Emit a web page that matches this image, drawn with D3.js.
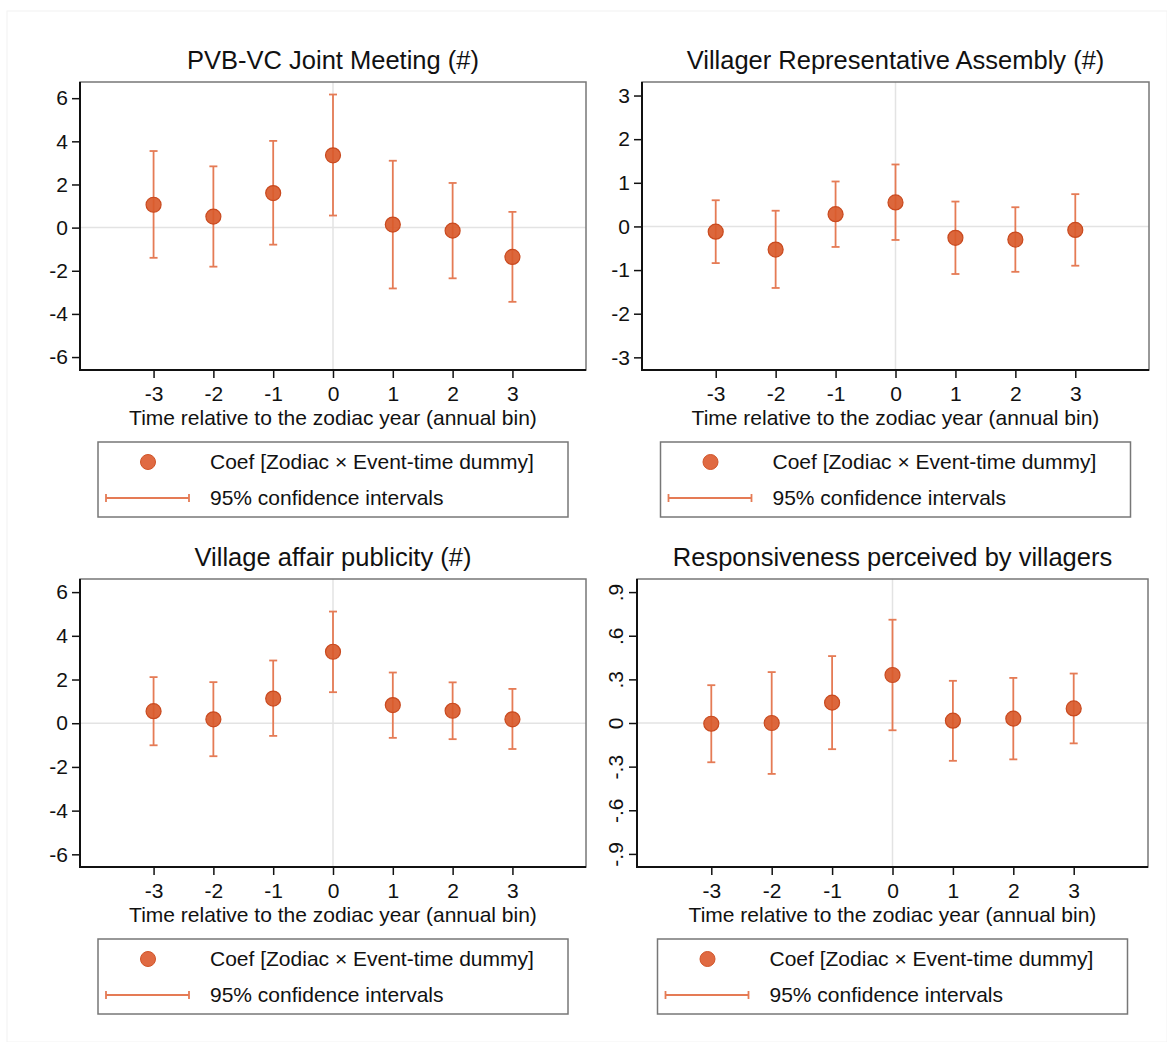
<!DOCTYPE html>
<html>
<head>
<meta charset="utf-8">
<script src="https://cdn.jsdelivr.net/npm/d3@7"></script>
<style>
  body { margin: 0; background: #fff; }
  svg { display: block; font-family: "Liberation Sans", Arial, sans-serif; }
</style>
</head>
<body>
<div id="chart"></div>
<script>
// event time bins
const eventTime = [-3, -2, -1, 0, 1, 2, 3];

// PVB-VC joint meeting
const jointCoef = [1.06, 0.51, 1.60, 3.35, 0.14, -0.14, -1.36];
const jointLo   = [-1.40, -1.81, -0.79, 0.56, -2.82, -2.35, -3.44];
const jointHi   = [3.55, 2.84, 4.02, 6.17, 3.10, 2.07, 0.73];

// villager representative assembly
const assemblyCoef = [-0.12, -0.53, 0.28, 0.55, -0.26, -0.30, -0.08];
const assemblyLo   = [-0.84, -1.41, -0.47, -0.31, -1.09, -1.04, -0.90];
const assemblyHi   = [0.60, 0.36, 1.03, 1.42, 0.57, 0.44, 0.74];

// village affair publicity
const publicityCoef = [0.55, 0.18, 1.13, 3.27, 0.83, 0.57, 0.18];
const publicityLo   = [-1.01, -1.51, -0.58, 1.42, -0.67, -0.73, -1.18];
const publicityHi   = [2.11, 1.88, 2.87, 5.11, 2.32, 1.87, 1.57];

// responsiveness perceived by villagers
const responsCoef = [-0.005, 0.0, 0.14, 0.33, 0.016, 0.03, 0.10];
const responsLo   = [-0.27, -0.35, -0.18, -0.05, -0.26, -0.25, -0.14];
const responsHi   = [0.26, 0.35, 0.46, 0.71, 0.29, 0.31, 0.34];

const titles = [
  'PVB-VC Joint Meeting (#)',
  'Villager Representative Assembly (#)',
  'Village affair publicity (#)',
  'Responsiveness perceived by villagers'
];
const yTicksBig = [-6, -4, -2, 0, 2, 4, 6];
const yTicksAssembly = [-3, -2, -1, 0, 1, 2, 3];
const yTicksRespons = [-0.9, -0.6, -0.3, 0, 0.3, 0.6, 0.9];

const xTitle = 'Time relative to the zodiac year (annual bin)';
const legendLabels = ['Coef [Zodiac \u00d7 Event-time dummy]', '95% confidence intervals'];

const width = 1167;
const height = 1042;
const ptColor = '#d95a2b';
const ciColor = '#e57b55';
const fontFam = '"Liberation Sans", Arial, sans-serif';

// stata style labels: plain hyphen, no leading zero
const plain = d => String(d);
const noLead = d => d === 0 ? '0' : String(d).replace('0.', '.');

const panels = [
  { coef: jointCoef, lo: jointLo, hi: jointHi, ticks: yTicksBig, yDom: [-6.6, 6.75],
    box: { left: 80, right: 586, top: 82, bottom: 370 }, fmt: plain, rotate: false },
  { coef: assemblyCoef, lo: assemblyLo, hi: assemblyHi, ticks: yTicksAssembly, yDom: [-3.29, 3.31],
    box: { left: 642, right: 1149, top: 82, bottom: 370 }, fmt: plain, rotate: false },
  { coef: publicityCoef, lo: publicityLo, hi: publicityHi, ticks: yTicksBig, yDom: [-6.58, 6.6],
    box: { left: 80, right: 586, top: 579, bottom: 867 }, fmt: plain, rotate: false },
  { coef: responsCoef, lo: responsLo, hi: responsHi, ticks: yTicksRespons, yDom: [-0.99, 0.99],
    box: { left: 637, right: 1148, top: 579, bottom: 867 }, fmt: noLead, rotate: true }
];

const svg = d3.select('#chart').append('svg')
  .attr('width', width)
  .attr('height', height);

// faint outer frame
svg.append('rect')
  .attr('x', 7).attr('y', 11)
  .attr('width', width - 7).attr('height', height - 11)
  .attr('fill', 'none')
  .attr('stroke', '#f2f2f2');

panels.forEach((p, i) => {
  const b = p.box;
  const x = d3.scaleLinear().domain([-4.23, 4.23]).range([b.left, b.right]);
  const y = d3.scaleLinear().domain(p.yDom).range([b.bottom, b.top]);
  const cx = (b.left + b.right) / 2;
  const g = svg.append('g');

  // title
  g.append('text')
    .attr('x', cx).attr('y', b.top - 13)
    .attr('text-anchor', 'middle')
    .attr('font-size', 25.5)
    .attr('fill', '#111')
    .text(titles[i]);

  // zero reference lines
  g.append('line')
    .attr('x1', b.left).attr('x2', b.right)
    .attr('y1', y(0)).attr('y2', y(0))
    .attr('stroke', '#e3e3e3').attr('stroke-width', 1.5);
  g.append('line')
    .attr('x1', x(0)).attr('x2', x(0))
    .attr('y1', b.top).attr('y2', b.bottom)
    .attr('stroke', '#e3e3e3').attr('stroke-width', 1.5);

  // plot frame
  g.append('rect')
    .attr('x', b.left).attr('y', b.top)
    .attr('width', b.right - b.left).attr('height', b.bottom - b.top)
    .attr('fill', 'none')
    .attr('stroke', '#777').attr('stroke-width', 1.5);

  // y axis
  const yAxis = g.append('g')
    .attr('transform', `translate(${b.left},0)`)
    .call(d3.axisLeft(y).tickValues(p.ticks).tickSize(8).tickPadding(4).tickFormat(p.fmt));
  yAxis.select('.domain').remove();
  yAxis.selectAll('.tick line').attr('stroke', '#111').attr('stroke-width', 1.5);
  yAxis.selectAll('.tick text')
    .attr('font-size', 21)
    .attr('font-family', fontFam)
    .attr('fill', '#111');
  if (p.rotate) {
    yAxis.selectAll('.tick text')
      .attr('transform', 'translate(-21,0) rotate(-90)')
      .attr('x', 0).attr('dy', '0.35em')
      .attr('text-anchor', 'middle');
  }

  // x axis
  const xAxis = g.append('g')
    .attr('transform', `translate(0,${b.bottom})`)
    .call(d3.axisBottom(x).tickValues(eventTime).tickSize(8).tickPadding(8).tickFormat(plain));
  xAxis.select('.domain').remove();
  xAxis.selectAll('.tick line').attr('stroke', '#111').attr('stroke-width', 1.5);
  xAxis.selectAll('.tick text')
    .attr('font-size', 21)
    .attr('font-family', fontFam)
    .attr('fill', '#111');

  // axis lines
  g.append('line')
    .attr('x1', b.left).attr('x2', b.left)
    .attr('y1', b.top).attr('y2', b.bottom + 1)
    .attr('stroke', '#111').attr('stroke-width', 2);
  g.append('line')
    .attr('x1', b.left - 1).attr('x2', b.right)
    .attr('y1', b.bottom).attr('y2', b.bottom)
    .attr('stroke', '#111').attr('stroke-width', 2);

  g.append('text')
    .attr('x', cx).attr('y', b.bottom + 55)
    .attr('text-anchor', 'middle')
    .attr('font-size', 21)
    .attr('fill', '#111')
    .text(xTitle);

  // confidence intervals
  const rows = eventTime.map((t, j) => ({ t, c: p.coef[j], lo: p.lo[j], hi: p.hi[j] }));
  const ci = g.append('g')
    .attr('stroke', ciColor).attr('stroke-width', 1.8).attr('fill', 'none');
  ci.selectAll('.bar').data(rows).enter().append('line')
    .attr('x1', d => x(d.t)).attr('x2', d => x(d.t))
    .attr('y1', d => y(d.lo)).attr('y2', d => y(d.hi));
  ci.selectAll('.capHi').data(rows).enter().append('line')
    .attr('x1', d => x(d.t) - 4).attr('x2', d => x(d.t) + 4)
    .attr('y1', d => y(d.hi)).attr('y2', d => y(d.hi));
  ci.selectAll('.capLo').data(rows).enter().append('line')
    .attr('x1', d => x(d.t) - 4).attr('x2', d => x(d.t) + 4)
    .attr('y1', d => y(d.lo)).attr('y2', d => y(d.lo));

  // point estimates
  g.selectAll('.pt').data(rows).enter().append('circle')
    .attr('cx', d => x(d.t)).attr('cy', d => y(d.c))
    .attr('r', 7.5)
    .attr('fill', ptColor).attr('fill-opacity', 0.92)
    .attr('stroke', '#c94a1f').attr('stroke-width', 1.2);

  // legend
  const lx = cx - 235, ly = b.bottom + 72;
  const lg = g.append('g').attr('transform', `translate(${lx},${ly})`);
  lg.append('rect')
    .attr('width', 470).attr('height', 75)
    .attr('fill', '#fff')
    .attr('stroke', '#777').attr('stroke-width', 1.5);
  lg.append('circle')
    .attr('cx', 50).attr('cy', 20).attr('r', 7.5)
    .attr('fill', '#e06a42')
    .attr('stroke', '#d05428').attr('stroke-width', 1);
  lg.append('line')
    .attr('x1', 8).attr('x2', 91).attr('y1', 56).attr('y2', 56)
    .attr('stroke', ciColor).attr('stroke-width', 1.8);
  [8, 91].forEach(ex => {
    lg.append('line')
      .attr('x1', ex).attr('x2', ex).attr('y1', 52).attr('y2', 60)
      .attr('stroke', ciColor).attr('stroke-width', 1.8);
  });
  legendLabels.forEach((lab, k) => {
    lg.append('text')
      .attr('x', 112).attr('y', k === 0 ? 20 : 56)
      .attr('dy', '0.35em')
      .attr('font-size', 21)
      .attr('fill', '#111')
      .text(lab);
  });
});
</script>
</body>
</html>
